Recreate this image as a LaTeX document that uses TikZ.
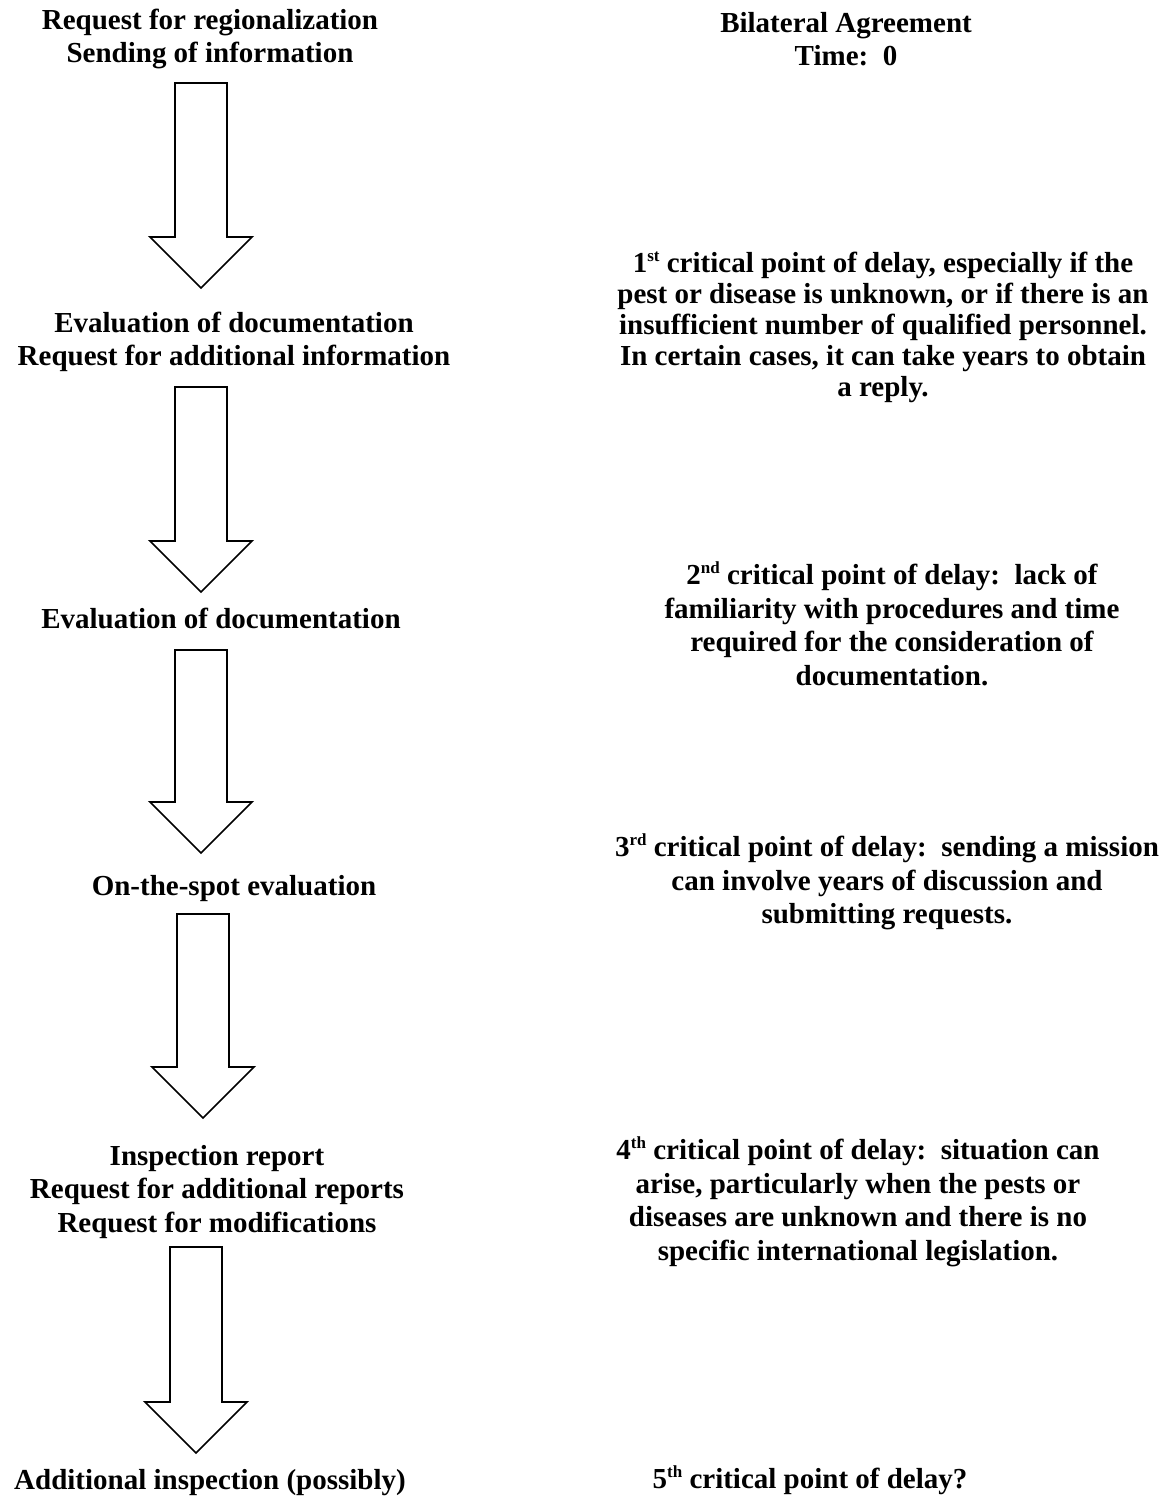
\documentclass[tikz,border=0pt]{standalone}
\usepackage{fontspec}
\setmainfont{Liberation Serif}
\usepackage{tikz}
\usetikzlibrary{calc}
\newcommand{\ordsup}[1]{\raisebox{11pt}{\fontsize{17}{17}\selectfont #1}}

\begin{document}
\begin{tikzpicture}[x=1pt, y=-1pt,
    txt/.style={font=\fontsize{29}{33.5}\selectfont\bfseries, align=center, inner sep=0pt},
    blockarr/.style={line width=1.7pt, line join=miter, to path={
        ($(\tikztostart)+(-26,0)$) -- ($(\tikztotarget)+(-26,-51)$) -- ($(\tikztotarget)+(-51,-51)$)
        -- (\tikztotarget) -- ($(\tikztotarget)+(51,-51)$) -- ($(\tikztotarget)+(26,-51)$)
        -- ($(\tikztostart)+(26,0)$) -- cycle}}
]
\useasboundingbox (0,0) rectangle (1171,1501);

% left column: steps
\node[txt] (request) at (210,39) {Request for regionalization\\Sending of information};
\node[txt] (evaldoc) at (234,342) {Evaluation of documentation\\Request for additional information};
\node[txt, anchor=base] (evalagain) at (221,628) {Evaluation of documentation};
\node[txt, anchor=base] (onspot) at (234,895) {On-the-spot evaluation};
\node[txt] (inspect) at (217,1192) {Inspection report\\Request for additional reports\\Request for modifications};
\node[txt, anchor=base] (addinsp) at (210,1489) {Additional inspection (possibly)};

% right column: delays
\node[txt] (bilateral) at (846,39) {Bilateral Agreement\\Time:\ \ 0};
\node[txt, font=\fontsize{29}{31}\selectfont\bfseries] (delay1) at (883,327) {1\ordsup{st} critical point of delay, especially if the\\pest or disease is unknown, or if there is an\\insufficient number of qualified personnel.\\In certain cases, it can take years to obtain\\a reply.};
\node[txt] (delay2) at (892,624) {2\ordsup{nd} critical point of delay:\ \ lack of\\familiarity with procedures and time\\required for the consideration of\\documentation.};
\node[txt] (delay3) at (887,882) {3\ordsup{rd} critical point of delay:\ \ sending a mission\\can involve years of discussion and\\submitting requests.};
\node[txt] (delay4) at (858,1202) {4\ordsup{th} critical point of delay:\ \ situation can\\arise, particularly when the pests or\\diseases are unknown and there is no\\specific international legislation.};
\node[txt, anchor=base] (delay5) at (810,1488) {5\ordsup{th} critical point of delay?};

% block arrows
\coordinate (top1) at (201,83);   \coordinate (tip1) at (201,288);
\coordinate (top2) at (201,387);  \coordinate (tip2) at (201,592);
\coordinate (top3) at (201,650);  \coordinate (tip3) at (201,853);
\coordinate (top4) at (203,914);  \coordinate (tip4) at (203,1118);
\coordinate (top5) at (196,1247); \coordinate (tip5) at (196,1453);

\draw[blockarr] (top1) to (tip1);
\draw[blockarr] (top2) to (tip2);
\draw[blockarr] (top3) to (tip3);
\draw[blockarr] (top4) to (tip4);
\draw[blockarr] (top5) to (tip5);
\end{tikzpicture}
\end{document}
